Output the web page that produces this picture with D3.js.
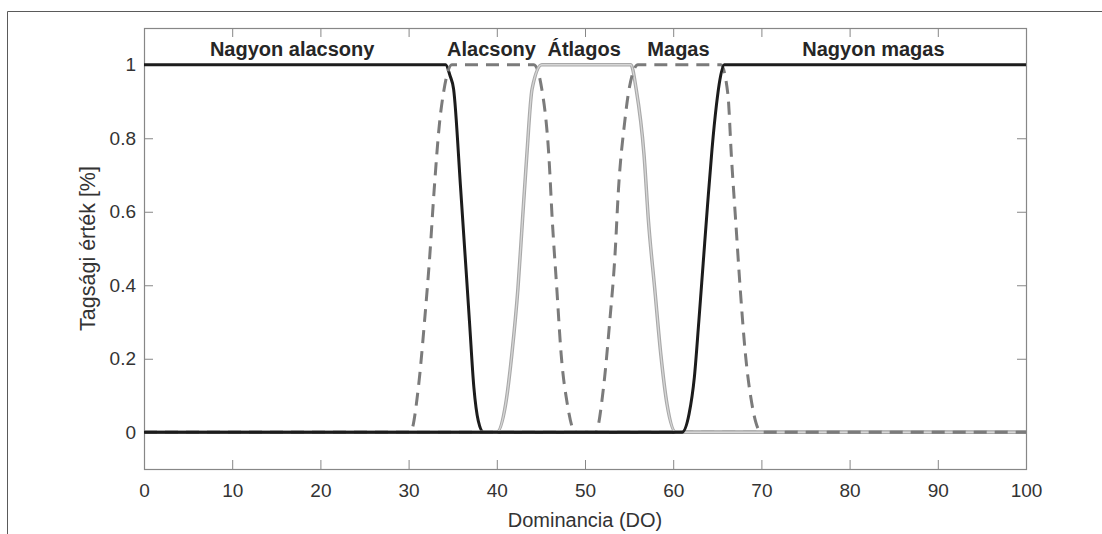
<!DOCTYPE html>
<html>
<head>
<meta charset="utf-8">
<script src="https://cdn.jsdelivr.net/npm/d3@7"></script>
<style>
  body { margin: 0; background: #fff; }
  text { font-family: "Liberation Sans", Arial, sans-serif; }
</style>
</head>
<body>
<div id="chart"></div>
<script>
// membership curves: [DO, membership]
const nagyonAlacsony = [[0, 1], [34.2, 1], [34.7, 0.97], [35.1, 0.934], [35.9, 0.663], [36.9, 0.302], [37.4, 0.122], [37.9, 0.031], [38.5, 0], [100, 0]];
const alacsony = [[0, 0], [30.2, 0], [31.1, 0.12], [31.8, 0.3], [32.4, 0.48], [32.9, 0.66], [33.5, 0.84], [34.0, 0.93], [34.9, 1],
                  [44.2, 1], [45.1, 0.934], [45.9, 0.753], [46.3, 0.573], [46.8, 0.392], [47.3, 0.211], [48.0, 0.076], [48.9, 0], [100, 0]];
const atlagos = [[0, 0], [40.0, 0], [41.0, 0.076], [41.7, 0.211], [42.4, 0.392], [42.9, 0.573], [43.4, 0.753], [44.0, 0.934], [45.1, 1],
                 [55.2, 1], [55.8, 0.934], [56.7, 0.753], [57.2, 0.573], [57.9, 0.392], [58.6, 0.211], [59.3, 0.076], [60.3, 0], [100, 0]];
const magas = [[0, 0], [51.2, 0], [52.1, 0.122], [52.8, 0.3], [53.4, 0.482], [53.8, 0.663], [54.5, 0.844], [55.0, 0.934], [56.0, 1],
               [65.4, 1], [66.2, 0.92], [66.6, 0.75], [67.1, 0.57], [67.6, 0.39], [68.2, 0.21], [68.9, 0.08], [70.0, 0], [100, 0]];
const nagyonMagas = [[0, 0], [61.0, 0], [61.8, 0.05], [62.4, 0.15], [62.9, 0.3], [63.4, 0.46], [63.9, 0.62], [64.4, 0.77], [64.9, 0.89], [65.3, 0.96], [65.8, 1], [100, 1]];

// category labels above the curves
const labelNames = ["Nagyon alacsony", "Alacsony", "Átlagos", "Magas", "Nagyon magas"];
const labelX = [16.8, 39.4, 49.9, 60.6, 82.7];
const labelY = 1.025;

const xTicks = d3.range(0, 101, 10);
const yTicks = [0, 0.2, 0.4, 0.6, 0.8, 1];

const width = 1102, height = 534;
const marginLeft = 144, marginRight = 76, marginTop = 28, marginBottom = 65;

const x = d3.scaleLinear([0, 100], [marginLeft, width - marginRight]);
const y = d3.scaleLinear([-0.1, 1.1], [height - marginBottom, marginTop]);

const svg = d3.select("#chart").append("svg")
    .attr("width", width)
    .attr("height", height)
    .attr("viewBox", [0, 0, width, height]);

// cropped figure frame (top and left only)
svg.append("path")
    .attr("d", `M7.5,${height}V11.5H${width}`)
    .attr("fill", "none")
    .attr("stroke", "#5a5a5a")
    .attr("stroke-width", 1);

const axisColor = "#878787";
const labelColor = "#333";

svg.append("g")
    .attr("transform", `translate(0,${height - marginBottom})`)
    .call(d3.axisBottom(x).tickValues(xTicks).tickSizeInner(-9).tickSizeOuter(0).tickPadding(15))
    .call(g => g.select(".domain").remove())
    .call(g => g.selectAll(".tick line").attr("stroke", axisColor))
    .call(g => g.selectAll(".tick text").attr("fill", labelColor).attr("font-size", 19));

svg.append("g")
    .attr("transform", `translate(0,${marginTop})`)
    .call(d3.axisTop(x).tickValues(xTicks).tickSizeInner(-9).tickSizeOuter(0).tickFormat(""))
    .call(g => g.select(".domain").remove())
    .call(g => g.selectAll(".tick line").attr("stroke", axisColor));

svg.append("g")
    .attr("transform", `translate(${marginLeft},0)`)
    .call(d3.axisLeft(y).tickValues(yTicks).tickSizeInner(-9).tickSizeOuter(0).tickPadding(8).tickFormat(d3.format("~g")))
    .call(g => g.select(".domain").remove())
    .call(g => g.selectAll(".tick line").attr("stroke", axisColor))
    .call(g => g.selectAll(".tick text").attr("fill", labelColor).attr("font-size", 19));

svg.append("g")
    .attr("transform", `translate(${width - marginRight},0)`)
    .call(d3.axisRight(y).tickValues(yTicks).tickSizeInner(-9).tickSizeOuter(0).tickFormat(""))
    .call(g => g.select(".domain").remove())
    .call(g => g.selectAll(".tick line").attr("stroke", axisColor));

svg.append("rect")
    .attr("x", marginLeft + 0.5)
    .attr("y", marginTop + 0.5)
    .attr("width", width - marginRight - marginLeft)
    .attr("height", height - marginBottom - marginTop)
    .attr("fill", "none")
    .attr("stroke", axisColor)
    .attr("stroke-width", 1.2);

const line = d3.line()
    .x(d => x(d[0]))
    .y(d => y(d[1]))
    .curve(d3.curveMonotoneX);

const plot = svg.append("g").attr("fill", "none").attr("stroke-linejoin", "round");

plot.append("path").attr("d", line(nagyonAlacsony))
    .attr("stroke", "#1c1c1c").attr("stroke-width", 3);

plot.append("path").attr("d", line(alacsony))
    .attr("stroke", "#7b7b7b").attr("stroke-width", 3).attr("stroke-dasharray", "13,8");

plot.append("path").attr("d", line(atlagos))
    .attr("stroke", "#a9a9a9").attr("stroke-width", 3.5);
plot.append("path").attr("d", line(atlagos))
    .attr("stroke", "#d6d6d6").attr("stroke-width", 1.3);

plot.append("path").attr("d", line(magas))
    .attr("stroke", "#7b7b7b").attr("stroke-width", 3).attr("stroke-dasharray", "13,8");

plot.append("path").attr("d", line(nagyonMagas))
    .attr("stroke", "#1c1c1c").attr("stroke-width", 3);

svg.append("g")
    .selectAll("text")
    .data(labelNames)
    .join("text")
    .attr("x", (d, i) => x(labelX[i]))
    .attr("y", y(labelY))
    .attr("text-anchor", "middle")
    .attr("font-weight", "bold")
    .attr("font-size", 20)
    .attr("fill", "#262626")
    .text(d => d);

svg.append("text")
    .attr("x", x(50))
    .attr("y", 527)
    .attr("text-anchor", "middle")
    .attr("font-size", 20)
    .attr("fill", labelColor)
    .text("Dominancia (DO)");

svg.append("text")
    .attr("transform", `translate(95,${y(0.5)}) rotate(-90)`)
    .attr("text-anchor", "middle")
    .attr("font-size", 21.5)
    .attr("fill", labelColor)
    .text("Tagsági érték [%]");
</script>
</body>
</html>
